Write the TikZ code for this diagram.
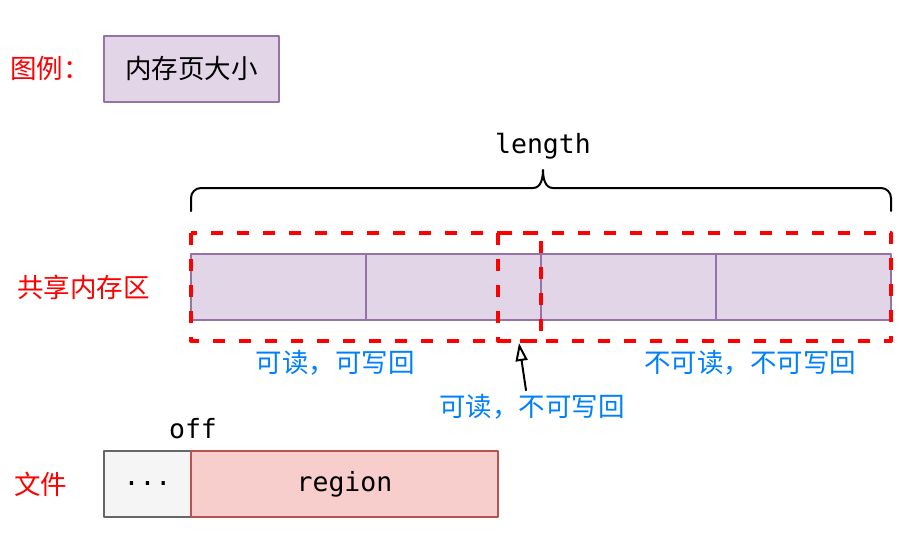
\documentclass[tikz,border=0pt]{standalone}
\usepackage{fontspec}
\setmainfont{Noto Sans CJK SC}
\setmonofont{DejaVu Sans Mono}
\usetikzlibrary{arrows.meta,positioning}
\definecolor{pagefill}{HTML}{E1D5E7}
\definecolor{pageline}{HTML}{9673A6}
\definecolor{greyfill}{HTML}{F5F5F5}
\definecolor{greyline}{HTML}{666666}
\definecolor{regfill}{HTML}{F8CECC}
\definecolor{regline}{HTML}{B85450}
\definecolor{lblblue}{HTML}{007FFF}
\begin{document}
\begin{tikzpicture}[x=1pt,y=-1pt,line join=round,line cap=round,
	font=\fontsize{26.5}{30}\selectfont,
	page/.style={draw=pageline,fill=pagefill,line width=2pt,minimum width=175pt,minimum height=66pt,inner sep=0pt,outer sep=0pt},
	redlbl/.style={text=red,anchor=west,inner sep=0pt},
	bluelbl/.style={text=lblblue,inner sep=2pt},
	mono/.style={font=\ttfamily\fontsize{26.5}{30}\selectfont,inner sep=0pt},
	dashbox/.style={draw=red,line width=4pt,line cap=butt,dash pattern=on 12pt off 14pt},
	curly/.style={line width=2pt},
	hollow/.style={-{Triangle[open,length=18pt,width=12pt,line width=2pt]},line width=2pt}]
			\useasboundingbox (0,0) rectangle (906,533);
			% legend
			\node[redlbl] (lgdlbl) at (10,68) {图例：};
			\node[page] (lgd) at (191.5,68.5) {内存页大小};
			% shared memory
			\node[mono] (len) at (543,146) {length};
			\node[redlbl] (shm) at (17,287) {共享内存区};
			\node[page] (p1) at (278.5,287) {};
			\node[page,right=0pt of p1] (p2) {};
			\node[page,right=0pt of p2] (p3) {};
			\node[page,right=0pt of p3] (p4) {};
			\draw[curly]
			(191,211) -- (191,198) arc[start angle=180,end angle=270,radius=10]
			-- (533,188) to[out=0,in=-90] (543,170) to[out=-90,in=180] (553,188)
			-- (881,188) arc[start angle=-90,end angle=0,radius=10] -- (891,211)
			;
			\draw[dashbox]
			(191,233) rectangle (541,341)
			(498,233) rectangle (891,341)
			;
			\node[bluelbl] (rw) at (335,363) {可读，可写回};
			\node[bluelbl] (nrnw) at (750,363) {不可读，不可写回};
			\node[bluelbl] (rnw) at (532,407) {可读，不可写回};
			\coordinate (tip) at (519,343);
			\draw[hollow] ([xshift=-6pt,yshift=2pt]rnw.north) -- (tip);
			% file
			\node[mono] (off) at (193,429) {off};
			\node[redlbl] (file) at (14,484) {文件};
			\node[draw=greyline,fill=greyfill,line width=2pt,minimum width=87pt,minimum height=66pt,inner sep=0pt,outer sep=0pt,font=\ttfamily\fontsize{26.5}{30}\selectfont] (dots) at (147.5,484) {...};
			\node[draw=regline,fill=regfill,line width=2pt,minimum width=307pt,minimum height=66pt,inner sep=0pt,outer sep=0pt,font=\ttfamily\fontsize{26.5}{30}\selectfont,right=0pt of dots] (reg) {region};
			\end{tikzpicture}
\end{document}
